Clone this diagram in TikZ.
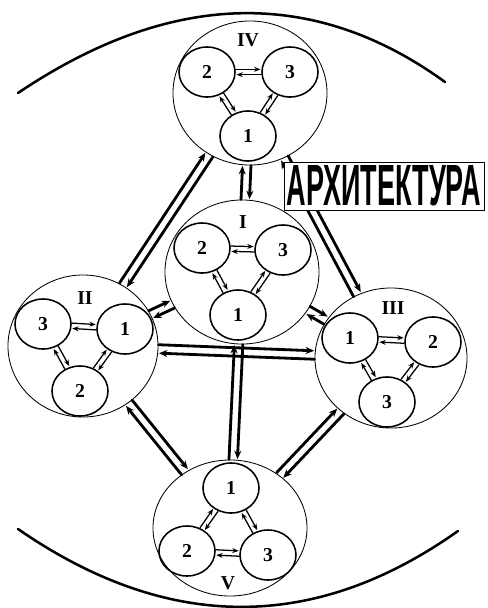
\documentclass[tikz,border=0pt]{standalone}
\usepackage{fontspec}
\setmainfont{Liberation Serif}
\newfontfamily\archfont{Liberation Sans}
\usepackage{tikz}
\usetikzlibrary{calc, arrows.meta, shapes.geometric}

\begin{document}
\begin{tikzpicture}[x=0.025cm, y=-0.025cm, line cap=round, line join=round,
  grande/.style={ellipse, draw, line width=0.6pt, minimum width=3.85cm, minimum height=3.6cm, inner sep=0pt},
  piccolo/.style={ellipse, draw, line width=1.1pt, minimum width=1.4cm, minimum height=1.25cm, inner sep=0pt, font=\fontsize{14}{14}\selectfont\bfseries},
  romano/.style={font=\fontsize{14}{14}\selectfont\bfseries, inner sep=0pt},
  freccina/.style={line width=0.9pt, -{Stealth[length=4.5pt,width=3.5pt]}, shorten >=0.5pt},
  freccia/.style={line width=2pt, -{Stealth[length=6pt,width=5pt]}, shorten >=0.5pt}]

\useasboundingbox (0,0) rectangle (488,608);

% archi esterni
\draw[line width=1.8pt] (18,93) .. controls (171,-10) and (314,-13) .. (445,82);
\draw[line width=1.8pt] (18,529) .. controls (167,632) and (314,633) .. (458,531);

% cerchi grandi
\node[grande] (IV) at (250,93) {};
\node[grande] (I) at (242,272) {};
\node[grande, minimum width=3.75cm, minimum height=3.55cm] (II) at (83,346) {};
\node[grande, minimum width=3.8cm, minimum height=3.5cm] (III) at (391,358) {};
\node[grande, minimum height=3.4cm] (V) at (230,528) {};

% numeri romani
\node[romano] (lIV) at (248,40) {IV};
\node[romano] (lI) at (243,222) {I};
\node[romano] (lII) at (85,298) {II};
\node[romano] (lIII) at (393,308) {III};
\node[romano] (lV) at (228,583) {V};

% --- cerchi piccoli ---
\node[piccolo] (IV2) at (207,72) {2};
\node[piccolo] (IV3) at (290,72) {3};
\node[piccolo] (IV1) at (248,136) {1};

\node[piccolo] (I2) at (202,248) {2};
\node[piccolo] (I3) at (283,250) {3};
\node[piccolo] (I1) at (238,315) {1};

\node[piccolo] (II3) at (43,324) {3};
\node[piccolo] (II1) at (125,329) {1};
\node[piccolo] (II2) at (80,391) {2};

\node[piccolo] (III1) at (350,338) {1};
\node[piccolo] (III2) at (433,342) {2};
\node[piccolo] (III3) at (387,402) {3};

\node[piccolo] (V1) at (231,488) {1};
\node[piccolo] (V2) at (187,551) {2};
\node[piccolo] (V3) at (268,555) {3};

% frecce doppie interne
\foreach \a/\b in {IV2/IV3, IV2/IV1, IV3/IV1, I2/I3, I2/I1, I3/I1,
                   II3/II1, II3/II2, II1/II2, III1/III2, III1/III3, III2/III3,
                   V1/V2, V1/V3, V2/V3}{
  \path (\a) -- (\b) coordinate[pos=0] (s) coordinate[pos=1] (e);
  \draw[freccina] ($(s)!1.9pt!90:(e)$) -- ($(e)!1.9pt!-90:(s)$);
  \draw[freccina] ($(e)!1.9pt!90:(s)$) -- ($(s)!1.9pt!-90:(e)$);
}

% frecce doppie tra i cerchi grandi
\foreach \a/\b in {IV/II, IV/I, IV/III, I/II, I/III, II/III, I/V, II/V, III/V}{
  \path (\a) -- (\b) coordinate[pos=0] (s) coordinate[pos=1] (e);
  \draw[freccia] ($(s)!3pt!90:(e)$) -- ($(e)!3pt!-90:(s)$);
  \draw[freccia] ($(e)!3pt!90:(s)$) -- ($(s)!3pt!-90:(e)$);
}

% scritta
\node[draw, line width=0.4pt, fill=white, minimum width=5cm, minimum height=1.2cm, inner sep=0pt]
  (arch) at (384,186) {\resizebox{4.85cm}{1.0cm}{\archfont\bfseries АРХИТЕКТУРА}};

\end{tikzpicture}
\end{document}
